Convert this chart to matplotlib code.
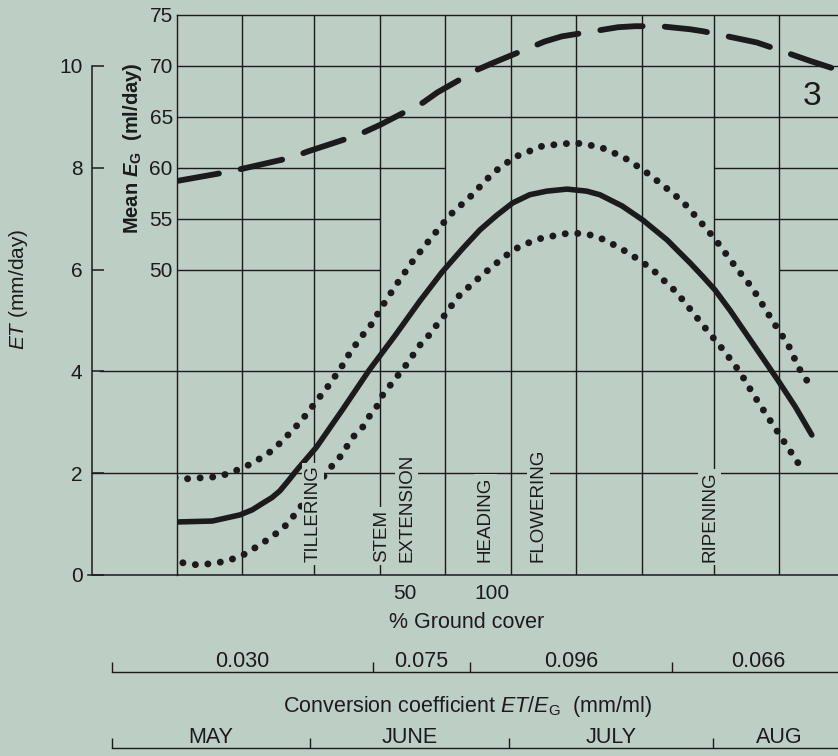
import matplotlib.pyplot as plt

plt.rcParams['font.family'] = ['Liberation Sans', 'DejaVu Sans']
plt.rcParams['mathtext.fontset'] = 'custom'
plt.rcParams['mathtext.rm'] = 'Liberation Sans'
plt.rcParams['mathtext.it'] = 'Liberation Sans:italic'
plt.rcParams['mathtext.bf'] = 'Liberation Sans:bold'
plt.rcParams['mathtext.bfit'] = 'Liberation Sans:italic:bold'

bg = '#bdcec4'
ink = '#1b1b1b'

# time is counted in days from 1 May
# mean ET (mm/day), solid line
et_days = [9.6, 15.4, 19.6, 21.5, 23.1, 24.5, 25.7, 27.0, 28.3, 31.3, 35.3, 39.4,
           43.3, 45.2, 47.1, 50.5, 53.7, 56.3, 58.9, 61.3, 63.9, 66.5, 69.6, 72.6,
           74.6, 78.0, 81.2, 83.0, 84.9, 86.6, 88.4, 90.3, 92.2, 94.5, 96.9, 99.3,
           101.8, 104.5, 107.0]
et_mean = [1.04, 1.06, 1.18, 1.28, 1.41, 1.52, 1.65, 1.85, 2.06, 2.51, 3.25, 4.03,
           4.70, 5.04, 5.38, 5.95, 6.42, 6.78, 7.07, 7.31, 7.47, 7.54, 7.58, 7.54,
           7.47, 7.25, 6.97, 6.78, 6.58, 6.36, 6.13, 5.87, 5.60, 5.20, 4.75, 4.30,
           3.83, 3.30, 2.75]

# upper dotted limit
hi_days = [9.7, 11.5, 13.8, 16.1, 18.1, 19.9, 21.6, 23.3, 24.7, 26.5, 28.0, 29.3,
           30.5, 31.7, 33.1, 34.3, 35.4, 36.3, 37.5, 38.6, 40.0, 41.0, 43.6, 46.1,
           48.7, 51.7, 54.8, 58.3, 61.6, 65.9, 70.8, 74.6, 78.2, 81.4, 84.4, 87.3,
           89.9, 92.2, 95.6, 97.9, 101.1, 103.4, 105.0, 106.9]
et_high = [1.91, 1.89, 1.91, 1.93, 2.00, 2.10, 2.20, 2.34, 2.46, 2.69, 2.89, 3.08,
           3.28, 3.48, 3.71, 3.93, 4.14, 4.34, 4.56, 4.75, 4.97, 5.21, 5.72, 6.18,
           6.60, 7.07, 7.43, 7.90, 8.21, 8.43, 8.49, 8.41, 8.21, 7.94, 7.64, 7.33,
           6.95, 6.60, 6.01, 5.64, 4.97, 4.52, 4.07, 3.69]

# lower dotted limit
lo_days = [10.9, 13.0, 15.0, 17.0, 18.9, 20.7, 22.1, 23.8, 25.3, 26.5, 27.7, 33.4,
           34.9, 36.9, 38.4, 39.5, 40.7, 41.6, 43.0, 44.4, 45.6, 46.7, 48.2, 49.3,
           50.7, 52.0, 53.2, 56.6, 59.8, 61.6, 63.6, 65.8, 69.6, 71.9, 73.9, 75.7,
           77.4, 79.2, 81.0, 82.6, 84.1, 85.8, 87.3, 91.1, 93.6, 96.0, 98.0, 100.3,
           102.6, 104.9, 105.8]
et_low = [0.24, 0.20, 0.22, 0.26, 0.33, 0.43, 0.55, 0.69, 0.83, 0.96, 1.14, 2.10,
          2.32, 2.71, 2.91, 3.14, 3.34, 3.58, 3.79, 4.03, 4.22, 4.46, 4.66, 4.85,
          5.07, 5.30, 5.50, 5.89, 6.23, 6.40, 6.52, 6.62, 6.71, 6.71, 6.66, 6.56,
          6.44, 6.31, 6.15, 6.01, 5.82, 5.62, 5.40, 4.79, 4.40, 3.99, 3.56, 3.10,
          2.65, 2.20, 2.00]

# mean E_G (ml/day), dashed line
eg_days = [10.0, 17.0, 20.0, 27.5, 30.0, 37.6, 41.0, 47.6, 49.8, 55.8, 58.3, 66.2,
           68.8, 77.4, 80.0, 83.8, 88.4, 90.4, 98.6, 100.9, 106.7, 111.0]
eg_mean = [58.7, 59.5, 59.9, 61.0, 61.6, 63.2, 64.2, 66.4, 67.4, 69.6, 70.3, 72.4,
           72.9, 73.8, 73.9, 73.9, 73.6, 73.4, 72.3, 71.8, 70.5, 69.6]

# dekad lines, growth stages, ground cover
grid_days = [10, 20, 31, 41, 51, 61, 71, 81, 92, 102]
stage_names = ['TILLERING', 'STEM', 'EXTENSION', 'HEADING', 'FLOWERING', 'RIPENING']
stage_days = [30.8, 41.3, 45.1, 57.1, 65.2, 91.4]
cover_days = [44.8, 58.1]
cover_labels = ['50', '100']

# conversion coefficient periods and months
coef_edges = [0, 39.9, 54.8, 85.6, 112]
coef_labels = ['0.030', '0.075', '0.096', '0.066']
month_edges = [0, 30.3, 60.7, 91.9, 112]
month_labels = ['MAY', 'JUNE', 'JULY', 'AUG']

et_ticks = [0, 2, 4, 6, 8, 10]
eg_ticks = [50, 55, 60, 65, 70, 75]

fig = plt.figure(figsize=(8.38, 7.56), dpi=100, facecolor=bg)
ax = fig.add_axes([177 / 838, 181 / 756, 661 / 838, 560 / 756])
ax.set_facecolor(bg)
ax.set_xlim(10, 111)
ax.set_ylim(0, 11)

# E_G scale on the frame: E_G = 5 * ET + 20
ax2 = ax.twinx()
ax2.set_ylim(20, 75)

for s in ['top', 'right', 'bottom']:
    ax.spines[s].set_visible(False)
ax.spines['left'].set_position(('outward', 61))
ax.spines['left'].set_bounds(0, 10)
ax.spines['left'].set_linewidth(1.1)
ax.spines['left'].set_color(ink)
for s in ['right', 'bottom']:
    ax2.spines[s].set_visible(False)
for s in ['left', 'top']:
    ax2.spines[s].set_linewidth(1.0)
    ax2.spines[s].set_color(ink)

ax.set_yticks(et_ticks)
ax.tick_params(axis='y', direction='in', length=8.5, width=1.1, pad=7,
               labelsize=15, colors=ink)
ax.set_xticks(cover_days, cover_labels)
ax.tick_params(axis='x', length=0, pad=6.5, labelsize=15, colors=ink)

ax2.yaxis.tick_left()
ax2.set_yticks(eg_ticks)
ax2.tick_params(axis='y', length=0, pad=3, labelsize=15, colors=ink)

# grid
ax.vlines(grid_days[1:], 0, 11, color=ink, lw=1.0, zorder=1)
ax2.hlines([70, 65], grid_days[0], 111, color=ink, lw=1.0, zorder=1)
ax2.hlines(60, grid_days[0], grid_days[4], color=ink, lw=1.0, zorder=1)
ax2.hlines([60, 55], grid_days[8], 111, color=ink, lw=1.0, zorder=1)
ax2.hlines([55, 50], grid_days[0], grid_days[3], color=ink, lw=1.0, zorder=1)
ax2.hlines(50, grid_days[9], 111, color=ink, lw=1.0, zorder=1)
yt = ax.get_yaxis_transform()
ax.plot([-0.116, 1], [4, 4], transform=yt, color=ink, lw=1.0, clip_on=False, zorder=1)
ax.plot([-0.1286, 1], [2, 2], transform=yt, color=ink, lw=1.0, clip_on=False, zorder=1)
ax.plot([-0.135, 1], [0, 0], transform=yt, color=ink, lw=1.1, clip_on=False, zorder=1)

# curves
ax.plot(et_days, et_mean, color=ink, lw=4.0, solid_capstyle='round',
        solid_joinstyle='round', zorder=2)
dots = dict(color=ink, lw=5.0, ls=(0, (0.01, 1.8)), dash_capstyle='round', zorder=2)
ax.plot(hi_days, et_high, **dots)
ax.plot(lo_days, et_low, **dots)
ax2.plot(eg_days, eg_mean, color=ink, lw=4.2, ls=(0, (7.3, 3.8)),
         dash_capstyle='round', zorder=2)

# growth stages
for name, d in zip(stage_names, stage_days):
    ax.text(d, 0.25, name, rotation=90, ha='center', va='bottom', fontsize=13.5,
            color=ink, zorder=4, bbox=dict(fc=bg, ec='none', pad=2))

ax.text(107.0, 9.39, '3', fontsize=24, ha='center', va='center', color=ink)

ax.text(-0.2405, 0.51, '$ET$ (mm/day)', transform=ax.transAxes, rotation=90,
        ha='center', va='center', fontsize=15, color=ink)
ax.text(-0.068, 0.762, r'Mean $\mathbfit{E}_\mathbf{G}$  (ml/day)', transform=ax.transAxes,
        rotation=90, ha='center', va='center', fontsize=14.5, fontweight='bold', color=ink)

# scales below the chart
xt = ax.get_xaxis_transform()
ax.text(54.3, -0.084, '% Ground cover', transform=xt, ha='center', va='center',
        fontsize=15.5, color=ink)


def bracket(edges, labels, y_line, y_text):
    ax.plot([edges[0], edges[-1]], [y_line, y_line], transform=xt, color=ink,
            lw=1.0, clip_on=False)
    ax.vlines(edges[:-1], y_line, y_line + 0.018, transform=xt, color=ink,
              lw=1.0, clip_on=False)
    for a, b, lab in zip(edges[:-1], edges[1:], labels):
        ax.text((a + b) / 2, y_text, lab, transform=xt, ha='center', va='center',
                fontsize=15.5, color=ink)


bracket(coef_edges, coef_labels, -0.1734, -0.155)
ax.text(54.4, -0.234, r'Conversion coefficient $ET/E_\mathrm{G}$  (mm/ml)', transform=xt,
        ha='center', va='center', fontsize=15.5, color=ink)
bracket(month_edges, month_labels, -0.309, -0.291)

fig.savefig('out.png', dpi=100, facecolor=bg)
